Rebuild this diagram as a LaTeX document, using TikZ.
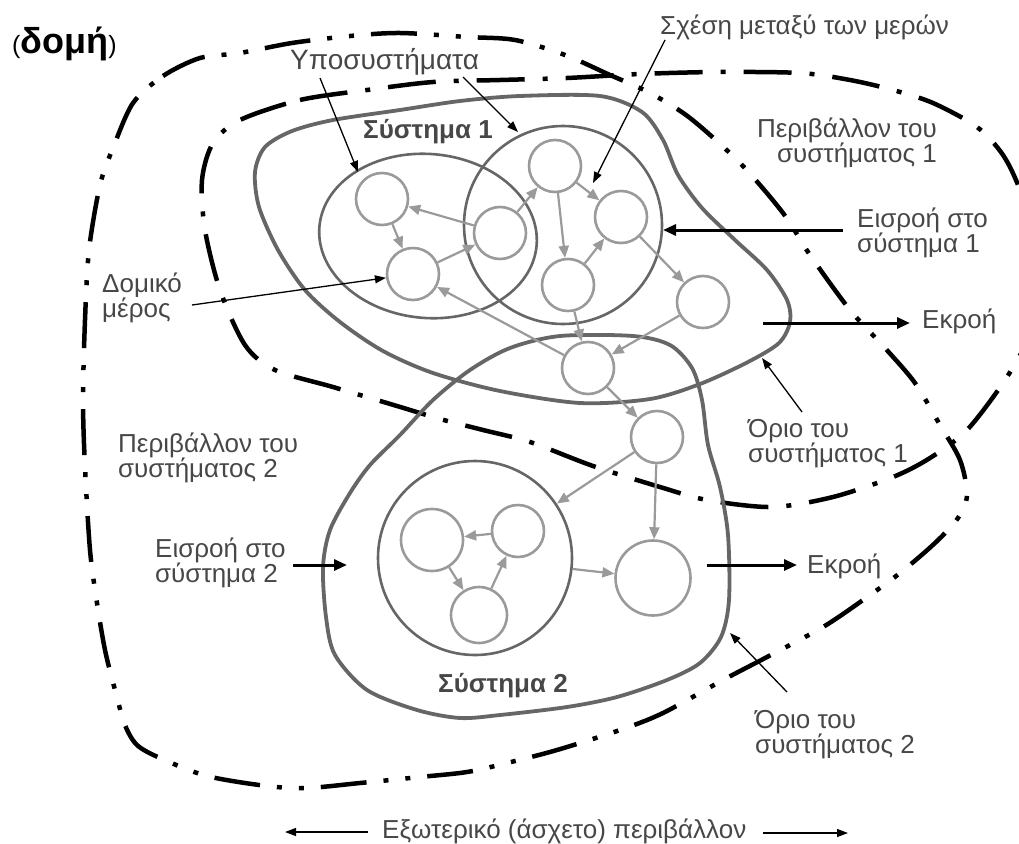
\documentclass[tikz,border=0pt]{standalone}
\usepackage{fontspec}
\setmainfont{Liberation Sans}
\usetikzlibrary{arrows.meta,shapes.geometric}
\definecolor{bound}{HTML}{666666}
\definecolor{partc}{HTML}{9A9A9A}
\definecolor{ink}{HTML}{474747}
\begin{document}
\begin{tikzpicture}[x=1pt,y=-1pt,
  envA/.style={line width=4.5pt, dash pattern=on 48pt off 18pt on 5pt off 18pt},
  envB/.style={line width=4.5pt, dash pattern=on 46pt off 17pt on 5pt off 17pt on 5pt off 17pt},
  sysline/.style={draw=bound, line width=3.8pt},
  subline/.style={draw=bound, line width=2.6pt, inner sep=0pt},
  partnode/.style={circle, draw=partc, line width=2.6pt, minimum size=52pt, inner sep=0pt},
  rel/.style={draw=partc, line width=2.2pt, -{Triangle[length=12pt,width=10pt]}},
  lbl/.style={line width=1.3pt, -{Triangle[length=11pt,width=8pt]}},
  io/.style={line width=3pt, -{Triangle[length=13pt,width=11pt]}},
  txt/.style={text=ink, inner sep=0pt, align=left, font=\fontsize{26}{25}\selectfont},
  bold/.style={text=ink, inner sep=0pt, font=\fontsize{26}{26}\selectfont\bfseries},
]
\useasboundingbox (0,0) rectangle (1019,843);
\clip (0,0) rectangle (1019,843);

% environment of system 1 (dash-dot)
\draw[envA] plot[smooth cycle] coordinates {
  (240,120) (300,100) (367,90) (433,82) (500,80) (567,78) (640,74) (717,72)
  (800,73) (850,80) (893,90) (933,103) (977,127) (1003,155) (1020,190)
  (1035,240) (1040,290) (1030,335) (1005,380) (967,430) (930,458) (893,477)
  (833,497) (772,507) (707,500) (660,487) (593,466) (530,442) (483,430)
  (440,419) (397,406) (333,387) (275,370) (245,345) (220,290) (205,230)
  (202,180) (213,143)};

% environment of system 2 (dash-dot-dot)
\draw[envB] plot[smooth cycle] coordinates {
  (133,103) (163,76) (200,58) (240,53) (292,43) (350,36) (400,33) (467,37)
  (515,40) (565,55) (610,75) (650,93) (690,118) (740,163) (783,213) (810,255)
  (850,310) (885,348) (915,383) (940,425) (960,460) (967,495) (958,518)
  (935,543) (900,573) (863,600) (823,627) (767,657) (723,680) (663,713)
  (620,730) (557,750) (507,763) (467,772) (420,777) (360,783) (307,788)
  (267,786) (207,776) (160,758) (137,745) (125,725) (115,690) (105,650)
  (97,603) (90,550) (85,467) (83,400) (85,320) (89,250) (100,185) (113,148)};

% system 1 boundary
\draw[sysline] plot[smooth cycle] coordinates {
  (520,96) (600,96) (642,112) (663,140) (678,175) (702,208) (735,240)
  (767,270) (787,300) (790,322) (779,343) (748,362) (700,384) (650,399)
  (580,403) (500,391) (433,373) (383,351) (340,322) (305,290) (278,250)
  (259,207) (255,172) (265,147) (292,131) (333,120) (400,110) (460,101)};

% system 2 boundary
\draw[sysline] plot[smooth cycle] coordinates {
  (433,400) (470,370) (510,348) (560,336) (633,336) (670,345) (692,368)
  (702,400) (708,445) (720,487) (728,535) (729,600) (721,637) (700,663)
  (667,680) (617,697) (567,707) (500,715) (460,718) (417,710) (367,690)
  (335,655) (326,617) (323,567) (330,530) (350,493) (370,465) (400,435)};

% subsystems
\node[subline, ellipse, minimum width=218pt, minimum height=164pt, rotate=-5] (subA) at (428,236) {};
\node[subline, circle, minimum size=198pt] (subB) at (563,225) {};
\node[subline, circle, minimum size=194pt] (subC) at (475,558) {};

% structural parts
\node[partnode] (c1) at (382,199) {};
\node[partnode] (c2) at (413,274) {};
\node[partnode] (c3) at (500,233) {};
\node[partnode] (c4) at (555,166) {};
\node[partnode] (c5) at (621,217) {};
\node[partnode] (c6) at (568,285) {};
\node[partnode] (c7) at (703,302) {};
\node[partnode] (c8) at (588,368) {};
\node[partnode] (c9) at (657,437) {};
\node[partnode, minimum size=75pt] (c10) at (653,578) {};
\node[partnode, minimum size=62pt] (c11) at (432,540) {};
\node[partnode] (c12) at (518,531) {};
\node[partnode, minimum size=56pt] (c13) at (479,615) {};

% relations between parts
\draw[rel] (c3) -- (c1);
\draw[rel] (c1) -- (c2);
\draw[rel] (c2) -- (c3);
\draw[rel] (c3) -- (c4);
\draw[rel] (c4) -- (c5);
\draw[rel] (c4) -- (c6);
\draw[rel] (c6) -- (c5);
\draw[rel] (c5) -- (c7);
\draw[rel] (c6) -- (c8);
\draw[rel] (c7) -- (c8);
\draw[rel] (c8) -- (c2);
\draw[rel] (c8) -- (c9);
\draw[rel] (c9) -- (subC);
\draw[rel] (c9) -- (c10);
\draw[rel] (c12) -- (c11);
\draw[rel] (c11) -- (c13);
\draw[rel] (c13) -- (c12);
\draw[rel] (subC) -- (c10);

% texts (two-line labels are placed by the baseline of their last line)
\node[anchor=base west, inner sep=0pt] (title) at (12,53)
  {{\fontsize{25}{25}\selectfont(}{\fontsize{36}{36}\selectfont\bfseries δομή}{\fontsize{25}{25}\selectfont)}};
\node[txt, anchor=base west, font=\fontsize{28}{28}\selectfont] (ypo) at (290,70) {Υποσυστήματα};
\node[txt, anchor=base west] (sxesi) at (660,35) {Σχέση μεταξύ των μερών};
\node[bold, anchor=base west] (s1) at (363,138) {Σύστημα 1};
\node[bold, anchor=base west] (s2) at (438,692) {Σύστημα 2};
\node[txt, anchor=base east, align=right] (env1) at (937,162) {Περιβάλλον του\\συστήματος 1};
\node[txt, anchor=base west] (in1) at (857,252) {Εισροή στο\\σύστημα 1};
\node[txt, anchor=base west] (out1) at (922,328) {Εκροή};
\node[txt, anchor=base west] (domiko) at (102,317) {Δομικό\\μέρος};
\node[txt, anchor=base west] (env2) at (118,477) {Περιβάλλον του\\συστήματος 2};
\node[txt, anchor=base west] (in2) at (155,582) {Εισροή στο\\σύστημα 2};
\node[txt, anchor=base west] (out2) at (807,573) {Εκροή};
\node[txt, anchor=base west] (orio1) at (748,462) {Όριο του\\συστήματος 1};
\node[txt, anchor=base west] (orio2) at (755,753) {Όριο του\\συστήματος 2};
\node[txt, anchor=base west] (ext) at (382,838) {Εξωτερικό (άσχετο) περιβάλλον};

% free ends of the pointers
\coordinate (tipSubA) at (358,172);
\coordinate (tipSubB) at (518,132);
\coordinate (tipRel) at (593,183);
\coordinate (tipIn1) at (663,230);
\coordinate (srcOut1) at (763,323);
\coordinate (tipB1) at (762,358);
\coordinate (tipB2) at (730,633);
\coordinate (tipIn2) at (347,565);
\coordinate (srcOut2) at (707,565);
\coordinate (tipExtL) at (285,832);
\coordinate (tipExtR) at (848,833);

% pointers
\draw[lbl] ([shift={(30,8)}]ypo.base west) -- (tipSubA);
\draw[lbl] ([shift={(173,7)}]ypo.base west) -- (tipSubB);
\draw[lbl] ([shift={(5,5)}]sxesi.base west) -- (tipRel);
\draw[lbl] ([shift={(90,-12)}]domiko.base west) -- (c2);
\draw[lbl] ([shift={(54,-50)}]orio1.base west) -- (tipB1);
\draw[lbl] ([shift={(32,-61)}]orio2.base west) -- (tipB2);
\draw[lbl] ([shift={(-14,-6)}]ext.base west) -- (tipExtL);
\draw[lbl] ([shift={(17,-5)}]ext.base east) -- (tipExtR);

% inputs and outputs
\draw[io] ([shift={(-14,-22)}]in1.base west) -- (tipIn1);
\draw[io] (srcOut1) -- ([shift={(-12,-5)}]out1.base west);
\draw[io] ([shift={(138,-17)}]in2.base west) -- (tipIn2);
\draw[io] (srcOut2) -- ([shift={(-10,-8)}]out2.base west);
\end{tikzpicture}
\end{document}
